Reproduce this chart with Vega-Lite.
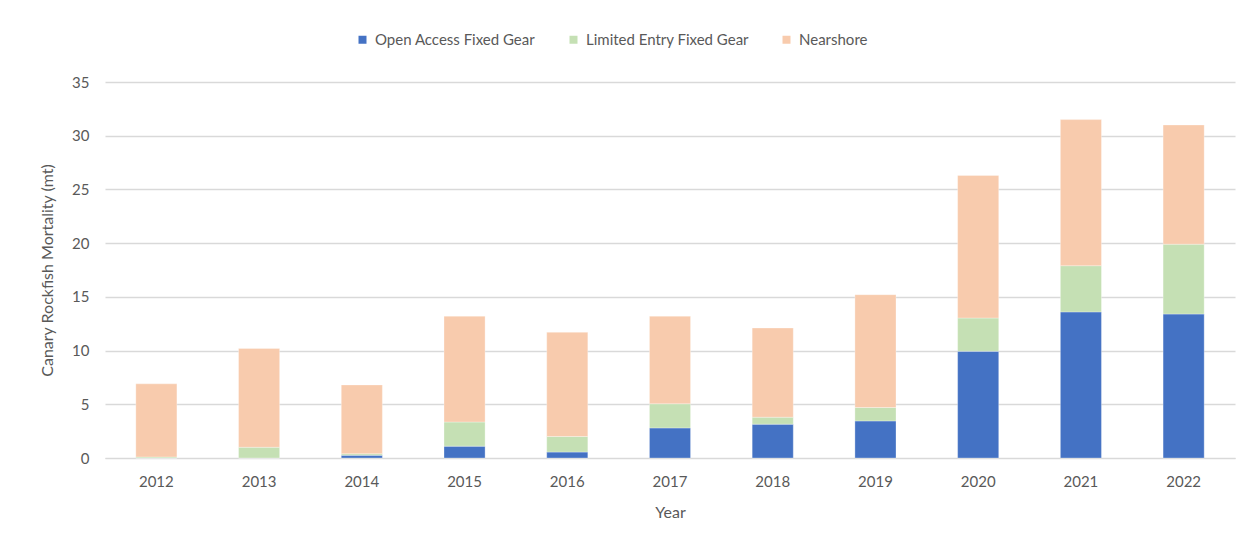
{
  "$schema": "https://vega.github.io/schema/vega-lite/v6.json",
  "width": 1130,
  "height": 376,
  "autosize": {"type": "none"},
  "padding": {"left": 105, "top": 82, "right": 24, "bottom": 92},
  "background": "white",
  "config": {
    "font": "Lato",
    "view": {"stroke": null},
    "axis": {"labelColor": "#595959", "titleColor": "#595959", "labelFontSize": 15, "titleFontSize": 16, "titleFontWeight": "normal", "labelFont": "Lato", "titleFont": "Lato"}
  },
  "data": {
    "values": [
      {"year": "2012", "series": "Open Access Fixed Gear", "mt": 0.0},
      {"year": "2012", "series": "Limited Entry Fixed Gear", "mt": 0.1},
      {"year": "2012", "series": "Nearshore", "mt": 6.8},
      {"year": "2013", "series": "Open Access Fixed Gear", "mt": 0.0},
      {"year": "2013", "series": "Limited Entry Fixed Gear", "mt": 1.0},
      {"year": "2013", "series": "Nearshore", "mt": 9.2},
      {"year": "2014", "series": "Open Access Fixed Gear", "mt": 0.25},
      {"year": "2014", "series": "Limited Entry Fixed Gear", "mt": 0.15},
      {"year": "2014", "series": "Nearshore", "mt": 6.4},
      {"year": "2015", "series": "Open Access Fixed Gear", "mt": 1.1},
      {"year": "2015", "series": "Limited Entry Fixed Gear", "mt": 2.25},
      {"year": "2015", "series": "Nearshore", "mt": 9.85},
      {"year": "2016", "series": "Open Access Fixed Gear", "mt": 0.55},
      {"year": "2016", "series": "Limited Entry Fixed Gear", "mt": 1.45},
      {"year": "2016", "series": "Nearshore", "mt": 9.7},
      {"year": "2017", "series": "Open Access Fixed Gear", "mt": 2.8},
      {"year": "2017", "series": "Limited Entry Fixed Gear", "mt": 2.25},
      {"year": "2017", "series": "Nearshore", "mt": 8.15},
      {"year": "2018", "series": "Open Access Fixed Gear", "mt": 3.15},
      {"year": "2018", "series": "Limited Entry Fixed Gear", "mt": 0.65},
      {"year": "2018", "series": "Nearshore", "mt": 8.3},
      {"year": "2019", "series": "Open Access Fixed Gear", "mt": 3.45},
      {"year": "2019", "series": "Limited Entry Fixed Gear", "mt": 1.25},
      {"year": "2019", "series": "Nearshore", "mt": 10.5},
      {"year": "2020", "series": "Open Access Fixed Gear", "mt": 9.93},
      {"year": "2020", "series": "Limited Entry Fixed Gear", "mt": 3.1},
      {"year": "2020", "series": "Nearshore", "mt": 13.27},
      {"year": "2021", "series": "Open Access Fixed Gear", "mt": 13.6},
      {"year": "2021", "series": "Limited Entry Fixed Gear", "mt": 4.3},
      {"year": "2021", "series": "Nearshore", "mt": 13.6},
      {"year": "2022", "series": "Open Access Fixed Gear", "mt": 13.4},
      {"year": "2022", "series": "Limited Entry Fixed Gear", "mt": 6.5},
      {"year": "2022", "series": "Nearshore", "mt": 11.1}
    ]
  },
  "transform": [
    {"calculate": "indexof(['Open Access Fixed Gear', 'Limited Entry Fixed Gear', 'Nearshore'], datum.series)", "as": "stackOrder"}
  ],
  "mark": {"type": "bar", "stroke": "white", "strokeWidth": 0.5, "strokeOpacity": 0.6},
  "encoding": {
    "x": {
      "field": "year", "type": "nominal", "title": "Year",
      "scale": {"paddingInner": 0.6, "paddingOuter": 0.3},
      "axis": {"labelAngle": 0, "ticks": false, "domainColor": "#d9d9d9", "domainWidth": 1, "labelPadding": 16, "titlePadding": 15}
    },
    "y": {
      "field": "mt", "type": "quantitative", "stack": "zero",
      "title": "Canary Rockfish Mortality (mt)",
      "scale": {"domain": [0, 35], "nice": false},
      "axis": {"values": [0, 5, 10, 15, 20, 25, 30, 35], "ticks": false, "domain": false, "gridColor": "#d9d9d9", "gridWidth": 1.3, "labelPadding": 16, "titlePadding": 16}
    },
    "order": {"field": "stackOrder", "type": "quantitative", "sort": "ascending"},
    "color": {
      "field": "series", "type": "nominal",
      "sort": ["Open Access Fixed Gear", "Limited Entry Fixed Gear", "Nearshore"],
      "scale": {"domain": ["Open Access Fixed Gear", "Limited Entry Fixed Gear", "Nearshore"], "range": ["#4472C4", "#C5E0B4", "#F8CBAD"]},
      "legend": {"orient": "none", "legendX": 250, "legendY": -50, "direction": "horizontal", "title": null, "symbolType": "square", "symbolSize": 64, "symbolStrokeWidth": 0, "labelFontSize": 15, "labelColor": "#595959", "labelFont": "Lato", "labelLimit": 400, "columnPadding": 30, "labelOffset": 5}
    }
  }
}
